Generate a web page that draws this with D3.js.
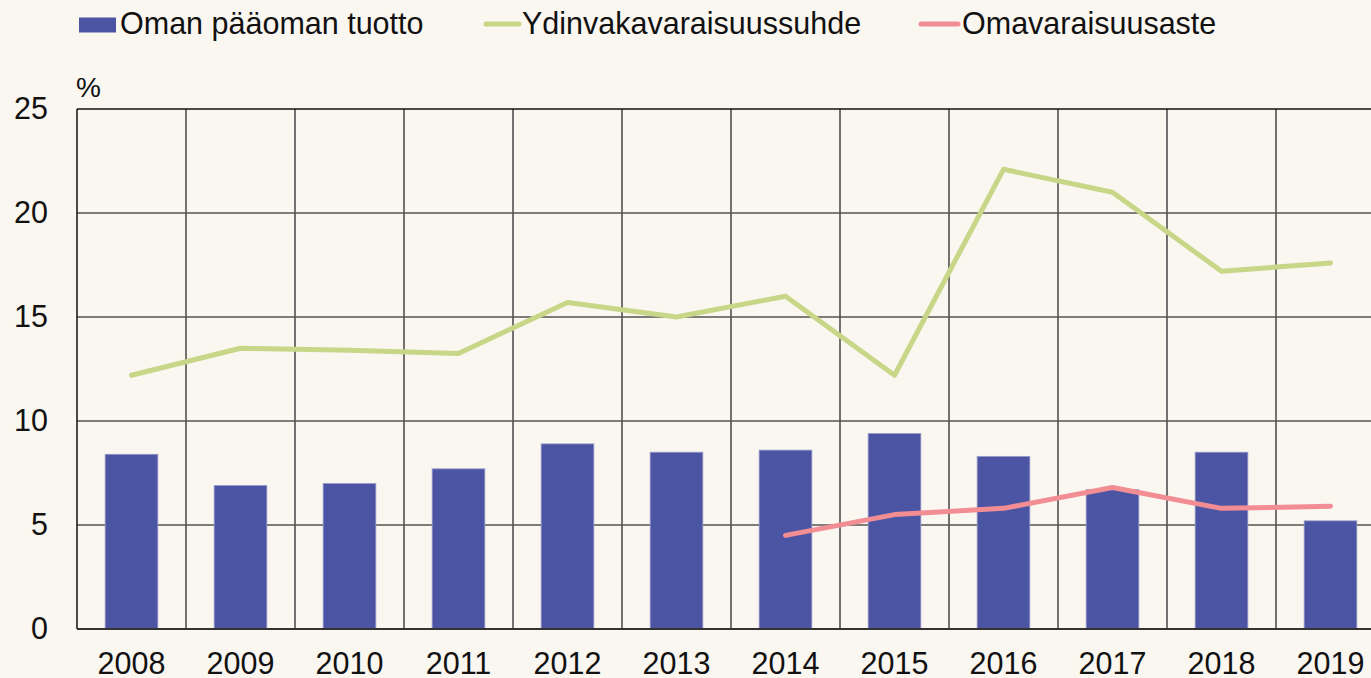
<!DOCTYPE html>
<html>
<head>
<meta charset="utf-8">
<script src="https://cdn.jsdelivr.net/npm/d3@7"></script>
<style>
  body { margin: 0; background: #faf6f0; overflow: hidden; }
  svg { display: block; font-family: "Liberation Sans", Arial, sans-serif; }
</style>
</head>
<body>
<div id="fig"></div>
<script>
// data
var years = ["2008","2009","2010","2011","2012","2013","2014","2015","2016","2017","2018","2019"];
var roe = [8.4, 6.9, 7.0, 7.7, 8.9, 8.5, 8.6, 9.4, 8.3, 6.7, 8.5, 5.2];          // Oman pääoman tuotto
var cet1 = [12.2, 13.5, 13.4, 13.25, 15.7, 15.0, 16.0, 12.2, 22.1, 21.0, 17.2, 17.6]; // Ydinvakavaraisuussuhde
var equity = [null, null, null, null, null, null, 4.5, 5.5, 5.8, 6.8, 5.8, 5.9];  // Omavaraisuusaste
var yTicks = [0, 5, 10, 15, 20, 25];

var W = 1371, H = 678;
var plotLeft = 77, plotTop = 109, plotBottom = 629, band = 109;
var fontSize = "30.5px";

var svg = d3.select("#fig").append("svg")
    .attr("width", W)
    .attr("height", H);

svg.append("rect").attr("width", W).attr("height", H).attr("fill", "#faf6f0");

// the plot runs a bit past the right edge, as in the original
var x = d3.scaleBand()
    .domain(years)
    .range([plotLeft, plotLeft + band * years.length])
    .padding(0);

var y = d3.scaleLinear()
    .domain([0, 25])
    .range([plotBottom, plotTop]);

// vertical grid lines between years
svg.append("g")
  .selectAll("line")
  .data(years.slice(1))
  .enter().append("line")
    .attr("x1", function(d) { return x(d); })
    .attr("x2", function(d) { return x(d); })
    .attr("y1", y(25))
    .attr("y2", y(0))
    .attr("stroke", "#1a1a1a")
    .attr("stroke-width", 1.2);

// horizontal grid lines
svg.append("g")
  .selectAll("line")
  .data(yTicks.filter(function(d) { return d > 0 && d < 25; }))
  .enter().append("line")
    .attr("x1", plotLeft)
    .attr("x2", W)
    .attr("y1", function(d) { return y(d); })
    .attr("y2", function(d) { return y(d); })
    .attr("stroke", "#555351")
    .attr("stroke-width", 1.6);

// bars
var bw = 52.7;
svg.append("g")
  .selectAll("rect")
  .data(roe)
  .enter().append("rect")
    .attr("x", function(d, i) { return x(years[i]) + x.bandwidth() / 2 - bw / 2; })
    .attr("y", function(d) { return y(d); })
    .attr("width", bw)
    .attr("height", function(d) { return y(0) - y(d); })
    .attr("fill", "#4c55a3")
    .attr("stroke", "#9a9ccc")
    .attr("stroke-width", 0.8);

// frame: top, left, baseline
svg.append("line").attr("x1", plotLeft).attr("x2", W).attr("y1", y(25)).attr("y2", y(25))
    .attr("stroke", "#111").attr("stroke-width", 1.5);
svg.append("line").attr("x1", plotLeft).attr("x2", plotLeft).attr("y1", y(25)).attr("y2", y(0))
    .attr("stroke", "#111").attr("stroke-width", 1.5);
svg.append("line").attr("x1", plotLeft).attr("x2", W).attr("y1", y(0)).attr("y2", y(0))
    .attr("stroke", "#333").attr("stroke-width", 2);

// lines
var line = d3.line()
    .defined(function(d) { return d != null; })
    .x(function(d, i) { return x(years[i]) + x.bandwidth() / 2; })
    .y(function(d) { return y(d); });

svg.append("path")
    .datum(cet1)
    .attr("d", line)
    .attr("fill", "none")
    .attr("stroke", "#c8d688")
    .attr("stroke-width", 5)
    .attr("stroke-linecap", "round")
    .attr("stroke-linejoin", "round");

svg.append("path")
    .datum(equity)
    .attr("d", line)
    .attr("fill", "none")
    .attr("stroke", "#f28d94")
    .attr("stroke-width", 5)
    .attr("stroke-linecap", "round")
    .attr("stroke-linejoin", "round");

// y axis labels
svg.append("g")
  .selectAll("text")
  .data(yTicks)
  .enter().append("text")
    .attr("x", 48)
    .attr("y", function(d) { return y(d) + 10; })
    .attr("text-anchor", "end")
    .style("font-size", fontSize)
    .attr("fill", "#111")
    .text(function(d) { return d; });

svg.append("text")
    .attr("x", 76)
    .attr("y", 97)
    .style("font-size", "28px")
    .attr("fill", "#111")
    .text("%");

// x axis labels
svg.append("g")
  .selectAll("text")
  .data(years)
  .enter().append("text")
    .attr("x", function(d) { return x(d) + x.bandwidth() / 2; })
    .attr("y", 674)
    .attr("text-anchor", "middle")
    .style("font-size", fontSize)
    .attr("fill", "#111")
    .text(function(d) { return d; });

// legend
svg.append("rect").attr("x", 79).attr("y", 17.5).attr("width", 37).attr("height", 15).attr("fill", "#4c55a3");
svg.append("text").attr("x", 120).attr("y", 34).style("font-size", fontSize).attr("fill", "#111")
    .text("Oman pääoman tuotto");

svg.append("line").attr("x1", 486).attr("x2", 519).attr("y1", 24).attr("y2", 24)
    .attr("stroke", "#c8d688").attr("stroke-width", 5).attr("stroke-linecap", "round");
svg.append("text").attr("x", 522).attr("y", 34).style("font-size", fontSize).attr("fill", "#111")
    .text("Ydinvakavaraisuussuhde");

svg.append("line").attr("x1", 921).attr("x2", 958).attr("y1", 24).attr("y2", 24)
    .attr("stroke", "#f28d94").attr("stroke-width", 5).attr("stroke-linecap", "round");
svg.append("text").attr("x", 962).attr("y", 34).style("font-size", fontSize).attr("fill", "#111")
    .text("Omavaraisuusaste");
</script>
</body>
</html>
